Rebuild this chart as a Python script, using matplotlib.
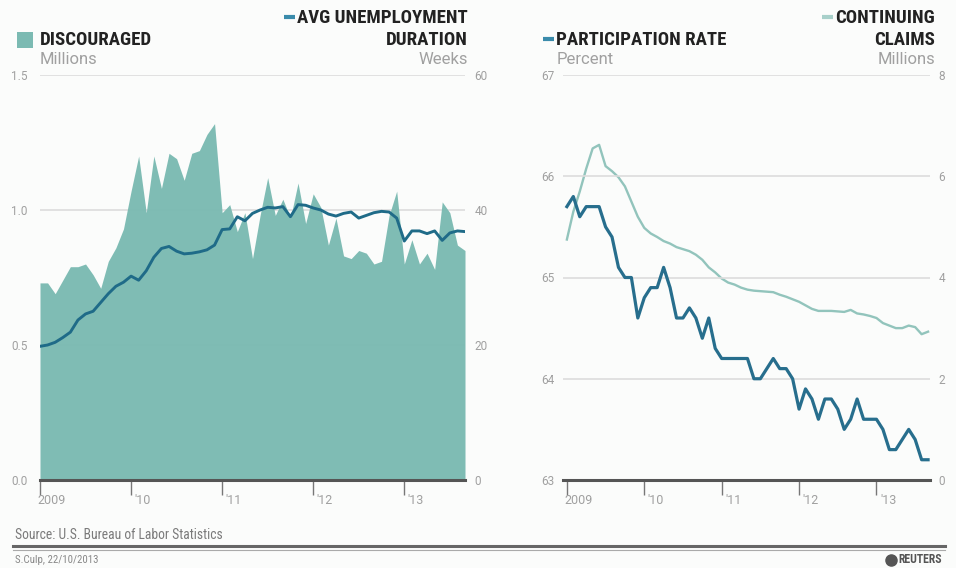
import matplotlib
matplotlib.use("Agg")
import matplotlib.pyplot as plt
import matplotlib.transforms as mtransforms
import numpy as np

plt.rcParams['font.family'] = ['Roboto Condensed', 'Roboto', 'DejaVu Sans']

# ---------------- data (monthly, Jan 2009 - Sep 2013) ----------------
year_ticks = [0, 12, 24, 36, 48]
year_labels = ["2009", "'10", "'11", "'12", "'13"]

discouraged = [0.73, 0.73, 0.69, 0.74, 0.79, 0.79, 0.80, 0.76, 0.71, 0.81, 0.86, 0.93,
               1.07, 1.20, 0.99, 1.20, 1.08, 1.21, 1.19, 1.11, 1.21, 1.22, 1.28, 1.32,
               0.99, 1.02, 0.92, 0.99, 0.82, 0.98, 1.12, 0.98, 1.04, 0.97, 1.10, 0.95,
               1.06, 1.01, 0.87, 0.97, 0.83, 0.82, 0.85, 0.84, 0.80, 0.81, 0.98, 1.07,
               0.80, 0.89, 0.80, 0.84, 0.78, 1.03, 0.99, 0.87, 0.85]

avg_duration = [19.8, 20.0, 20.4, 21.1, 21.9, 23.7, 24.6, 25.0, 26.3, 27.6, 28.7, 29.3,
                30.2, 29.6, 31.0, 33.0, 34.3, 34.6, 33.9, 33.5, 33.6, 33.8, 34.1, 34.8,
                37.1, 37.2, 39.0, 38.4, 39.5, 40.0, 40.4, 40.3, 40.5, 39.0, 40.8, 40.7,
                40.3, 40.0, 39.4, 39.1, 39.5, 39.7, 38.8, 39.2, 39.6, 39.8, 39.7, 38.8,
                35.4, 36.9, 36.9, 36.5, 36.9, 35.5, 36.6, 36.9, 36.8]

participation = [65.7, 65.8, 65.6, 65.7, 65.7, 65.7, 65.5, 65.4, 65.1, 65.0, 65.0, 64.6,
                 64.8, 64.9, 64.9, 65.1, 64.9, 64.6, 64.6, 64.7, 64.6, 64.4, 64.6, 64.3,
                 64.2, 64.2, 64.2, 64.2, 64.2, 64.0, 64.0, 64.1, 64.2, 64.1, 64.1, 64.0,
                 63.7, 63.9, 63.8, 63.6, 63.8, 63.8, 63.7, 63.5, 63.6, 63.8, 63.6, 63.6,
                 63.6, 63.5, 63.3, 63.3, 63.4, 63.5, 63.4, 63.2, 63.2]

continuing_claims = [4.75, 5.30, 5.70, 6.15, 6.55, 6.62, 6.20, 6.10, 5.98, 5.80, 5.50, 5.20,
                     4.98, 4.87, 4.80, 4.72, 4.67, 4.60, 4.56, 4.52, 4.45, 4.35, 4.20, 4.10,
                     3.98, 3.90, 3.86, 3.80, 3.76, 3.74, 3.73, 3.72, 3.71, 3.66, 3.62, 3.57,
                     3.52, 3.45, 3.38, 3.34, 3.34, 3.34, 3.33, 3.32, 3.36, 3.29, 3.27, 3.24,
                     3.20, 3.10, 3.05, 3.00, 3.00, 3.05, 3.02, 2.88, 2.93]

left_yticks = [0.0, 0.5, 1.0, 1.5]
left_yticklabels = ["0.0", "0.5", "1.0", "1.5"]
left_y2ticks = [0, 20, 40, 60]
right_yticks = [63, 64, 65, 66, 67]
right_y2ticks = [0, 2, 4, 6, 8]

# ---------------- style ----------------
W, H = 956, 568
BG = '#fbfcfb'
AREA = '#7bbab2'
DUR = '#1f6b88'
PART = '#276e8d'
CLAIMS = '#92c4bc'
GRID = '#dcdcdc'
TICK = '#a0a0a0'
AXIS = '#555555'
TICKFONT = ['Roboto', 'DejaVu Sans']

fig = plt.figure(figsize=(W / 100, H / 100), dpi=100, facecolor=BG)


def fx(x):
    return x / W


def fy(y):
    return 1 - y / H


months = np.arange(len(discouraged))


def style_axes(ax, twin, lpad, rpad):
    for a in (ax, twin):
        for s in ['top', 'left', 'right', 'bottom']:
            a.spines[s].set_visible(False)
        a.patch.set_visible(False)
    ax.spines['bottom'].set_visible(True)
    ax.spines['bottom'].set_color(AXIS)
    ax.spines['bottom'].set_linewidth(2.2)
    ax.spines['bottom'].set_zorder(6)
    ax.tick_params(axis='y', length=0, labelsize=8.5, labelcolor=TICK, pad=lpad)
    twin.tick_params(axis='y', length=0, labelsize=8.5, labelcolor=TICK, pad=rpad)
    ax.tick_params(axis='x', direction='out', length=11, width=1, color='#777777',
                   labelsize=9, labelcolor=TICK, pad=-1)
    ax.set_xticks(year_ticks)
    ax.set_xticklabels(year_labels)
    for i, lbl in enumerate(ax.get_xticklabels()):
        dx = -1.5 if i == 0 else 2.5
        offset = mtransforms.ScaledTranslation(dx / 72, 0, fig.dpi_scale_trans)
        lbl.set_ha('left')
        lbl.set_transform(lbl.get_transform() + offset)
    for lbl in ax.get_xticklabels() + ax.get_yticklabels() + twin.get_yticklabels():
        lbl.set_family(TICKFONT)


# ---------------- left chart ----------------
ax1 = fig.add_axes([fx(40), fy(480), fx(465) - fx(40), fy(75) - fy(480)])
ax2 = ax1.twinx()
ax1.set_xlim(0, len(discouraged) - 1)
ax1.set_ylim(0, 1.5)
ax2.set_ylim(0, 60)
for yv in left_yticks[1:]:
    ax1.axhline(yv, color=GRID, lw=1.2, zorder=0)
ax1.fill_between(months, 0, discouraged, color=AREA, lw=0, zorder=2, alpha=0.97)
ax2.plot(months, avg_duration, color=DUR, lw=2.1, zorder=3, solid_joinstyle='round')
ax1.set_yticks(left_yticks)
ax1.set_yticklabels(left_yticklabels)
ax2.set_yticks(left_y2ticks)
style_axes(ax1, ax2, 9, 7)

# ---------------- right chart ----------------
ax3 = fig.add_axes([fx(563), fy(480), fx(930) - fx(563), fy(75) - fy(480)])
ax4 = ax3.twinx()
ax3.set_xlim(-0.6, len(participation) - 1 + 0.3)
ax3.set_ylim(63, 67)
ax4.set_ylim(0, 8)
for yv in right_yticks[1:]:
    ax3.axhline(yv, color=GRID, lw=1.2, zorder=0)
ax4.plot(months, continuing_claims, color=CLAIMS, lw=1.7, zorder=2)
ax3.plot(months, participation, color=PART, lw=2.3, zorder=3)
ax3.set_yticks(right_yticks)
ax4.set_yticks(right_y2ticks)
style_axes(ax3, ax4, 6, 6)
ax3.set_zorder(ax4.get_zorder() + 1)

# ---------------- header texts ----------------
BOLD = dict(fontsize=13.6, fontweight='bold', color='#222222', va='center')
UNIT = dict(fontsize=12, color='#a0a0a0', va='center', family=['Roboto', 'DejaVu Sans'])

fig.patches.append(plt.Rectangle((fx(17), fy(48)), fx(16), fy(32) - fy(48),
                                 transform=fig.transFigure, color=AREA, lw=0))
fig.text(fx(40), fy(40), "DISCOURAGED", ha='left', **BOLD)
fig.text(fx(40), fy(60), "Millions", ha='left', **UNIT)

fig.text(fx(468), fy(18), "AVG UNEMPLOYMENT", ha='right', **BOLD)
fig.text(fx(468), fy(40), "DURATION", ha='right', **BOLD)
fig.text(fx(468), fy(60), "Weeks", ha='right', **UNIT)

fig.text(fx(556), fy(40), "PARTICIPATION RATE", ha='left', **BOLD)
fig.text(fx(557), fy(60), "Percent", ha='left', **UNIT)

fig.text(fx(935), fy(18), "CONTINUING", ha='right', **BOLD)
fig.text(fx(935), fy(40), "CLAIMS", ha='right', **BOLD)
fig.text(fx(935), fy(60), "Millions", ha='right', **UNIT)

fig.canvas.draw()
renderer = fig.canvas.get_renderer()


def dash_before(txt, color):
    bb = txt.get_window_extent(renderer)
    x1 = bb.x0 - 2
    y = (bb.y0 + bb.y1) / 2 + 1
    fig.add_artist(plt.Line2D([(x1 - 11) / W, x1 / W], [y / H, y / H],
                              transform=fig.transFigure, color=color, lw=3,
                              solid_capstyle='butt'))


for t in list(fig.texts):
    s = t.get_text()
    if s == "AVG UNEMPLOYMENT":
        dash_before(t, '#3a8bab')
    elif s == "PARTICIPATION RATE":
        dash_before(t, '#3a8bab')
    elif s == "CONTINUING":
        dash_before(t, '#a8d0ca')

# ---------------- footer ----------------
fig.text(fx(15), fy(535), "Source: U.S. Bureau of Labor Statistics", ha='left', va='center',
         fontsize=9.8, color='#7a7a7a')
fig.add_artist(plt.Line2D([fx(13), fx(945)], [fy(546), fy(546)], transform=fig.transFigure,
                          color='#666666', lw=2.2))
fig.add_artist(plt.Line2D([fx(13), fx(945)], [fy(549.5), fy(549.5)], transform=fig.transFigure,
                          color='#aaaaaa', lw=0.8))
fig.text(fx(15), fy(560), "S.Culp, 22/10/2013", ha='left', va='center', fontsize=7.8, color='#888888')
fig.add_artist(plt.Line2D([fx(891)], [fy(559.5)], transform=fig.transFigure, marker='o',
                          markersize=8, color='#555555', lw=0))
fig.text(fx(898), fy(559.5), "REUTERS", ha='left', va='center', fontsize=8.5,
         fontweight='bold', color='#555555')

fig.savefig("out.png", dpi=100, facecolor=BG)
